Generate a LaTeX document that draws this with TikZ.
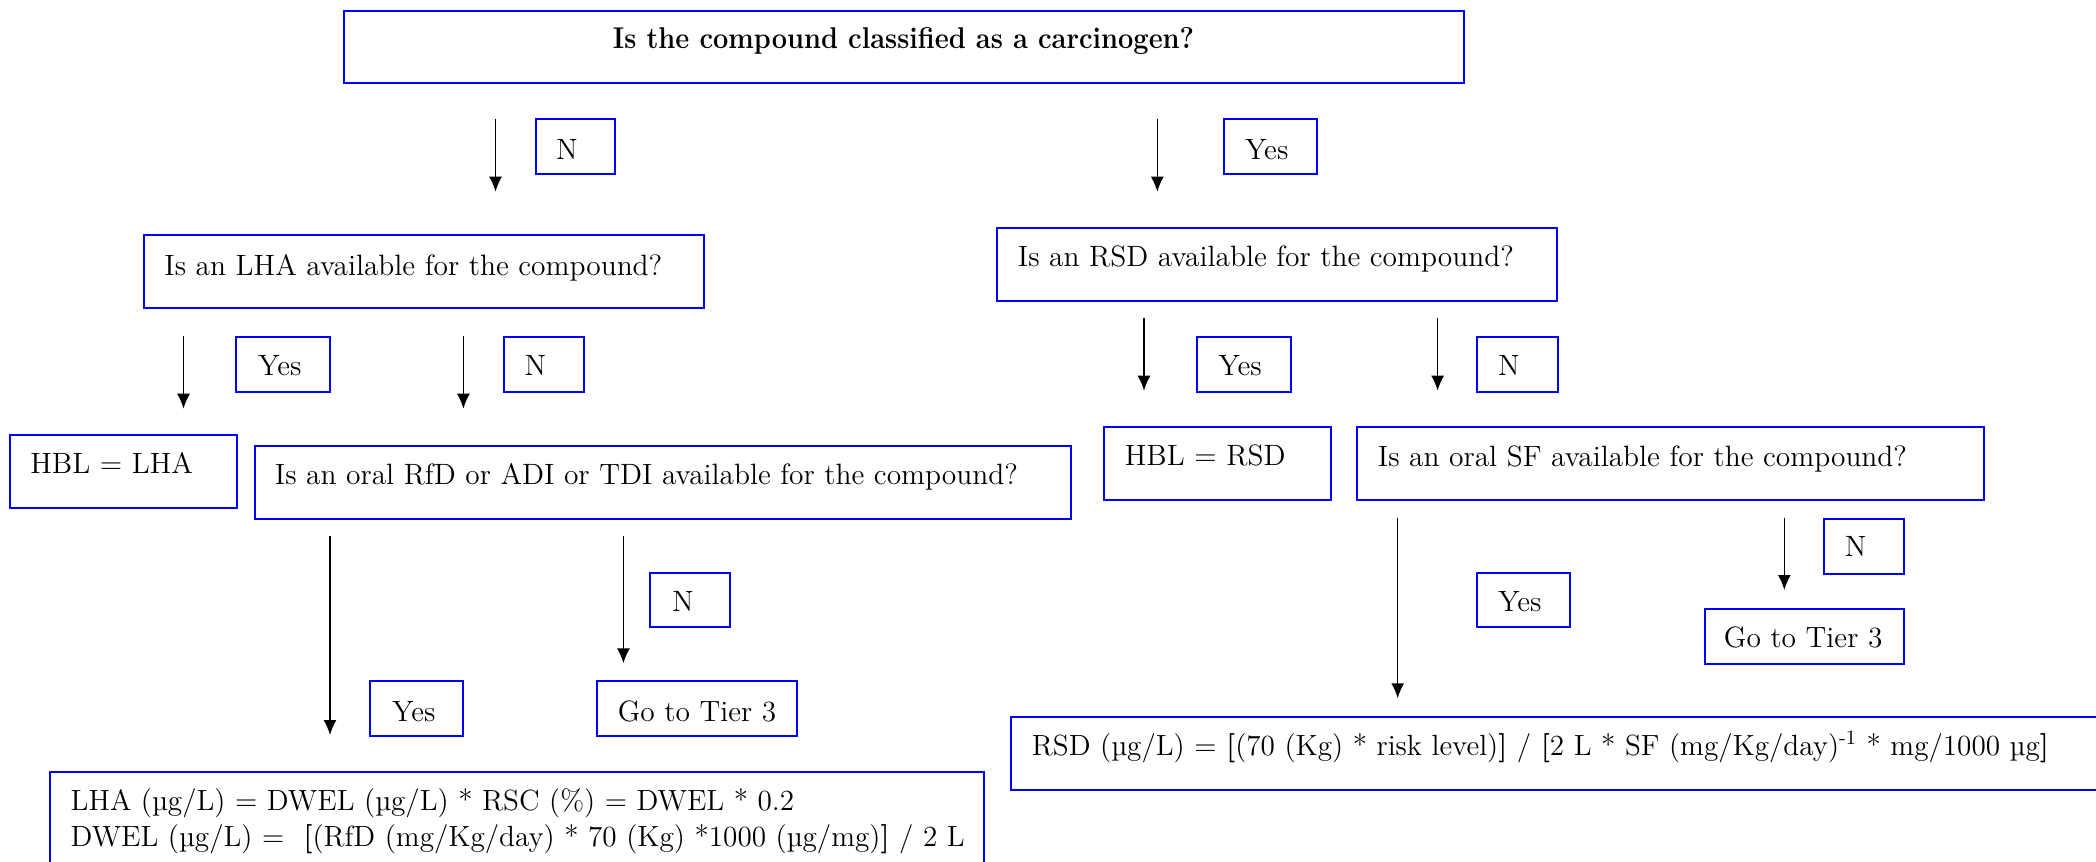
\documentclass[tikz,border=0pt]{standalone}
\usepackage{fontspec}
\usetikzlibrary{arrows.meta,fit}
\begin{document}
\begin{tikzpicture}[x=0.5pt,y=-0.5pt,
  box/.style={draw=blue, line width=1pt, inner sep=0pt, fill=none},
  txt/.style={font=\fontsize{14.7}{17.6}\selectfont, inner sep=0pt, anchor=base west},
  ftxt/.style={txt, font=\fontsize{14.6}{17.5}\selectfont},
  arr/.style={-{Latex[length=7.5pt,width=6.5pt]}, line width=0.75pt, black}]
\useasboundingbox (0,0) rectangle (2096,861);
\clip (0,0) rectangle (2096,861);
\fill[white] (0,0) rectangle (2096,861);

% boxes
\node[box, fit={(343.5,10.7)(1463.5,83.3)}] (q0) {};
\node[box, fit={(535.7,119.3)(615.4,174)}] (n1) {};
\node[box, fit={(1223.7,119.3)(1317.3,174)}] (y1) {};
\node[box, fit={(144,235.3)(703.7,308.3)}] (qlha) {};
\node[box, fit={(997,227.7)(1557,301)}] (qrsd) {};
\node[box, fit={(236.4,336.7)(330,391.7)}] (y2) {};
\node[box, fit={(503.5,336.7)(584,391.7)}] (n2) {};
\node[box, fit={(1197,336.7)(1290.8,391.7)}] (y3) {};
\node[box, fit={(1477.4,336.7)(1557.8,391.7)}] (n3) {};
\node[box, fit={(10,435)(237,508)}] (hbl1) {};
\node[box, fit={(255,446)(1071.3,519)}] (qrfd) {};
\node[box, fit={(1103.5,427.3)(1330.6,500)}] (hbl2) {};
\node[box, fit={(1357,427.3)(1984.2,500)}] (qsf) {};
\node[box, fit={(650,572.7)(730,627.3)}] (n4) {};
\node[box, fit={(370.3,681)(463.4,736)}] (y4) {};
\node[box, fit={(596.6,681)(796.8,736)}] (g1) {};
\node[box, fit={(1824,519.3)(1903.8,574)}] (n5) {};
\node[box, fit={(1477.4,572.7)(1570.4,627.3)}] (y5) {};
\node[box, fit={(1704.6,609)(1903.8,664)}] (g2) {};
\node[box, fit={(50.2,771.7)(983.6,900)}] (f1) {};
\node[box, fit={(1010.5,717.3)(2120,790)}] (f2) {};

% texts
\node[txt, anchor=base, font=\fontsize{15}{18}\selectfont\bfseries] (q0t) at (903.5,49) {\scalebox{0.906}[1]{Is the compound classified as a carcinogen?}};
\node[txt] (n1t) at (555.8,159.3) {N};
\node[txt] (y1t) at (1244.6,159.3) {Yes};
\node[txt] (qlhat) at (164,275) {Is an LHA available for the compound?};
\node[txt] (qrsdt) at (1017.5,266.7) {Is an RSD available for the compound?};
\node[txt] (y2t) at (257.8,375.7) {Yes};
\node[txt] (n2t) at (524.3,375.7) {N};
\node[txt] (y3t) at (1218,375.7) {Yes};
\node[txt] (n3t) at (1497.7,375.7) {N};
\node[txt] (hbl1t) at (30,473.3) {HBL = LHA};
\node[txt] (qrfdt) at (274.5,484) {Is an oral RfD or ADI or TDI available for the compound?};
\node[txt] (hbl2t) at (1124.4,465) {HBL = RSD};
\node[txt] (qsft) at (1377.5,466.7) {Is an oral SF available for the compound?};
\node[txt] (n4t) at (671.6,611.7) {N};
\node[txt] (y4t) at (391.7,721) {Yes};
\node[txt] (g1t) at (617.4,721) {Go to Tier 3};
\node[txt] (n5t) at (1844.4,556.7) {N};
\node[txt] (y5t) at (1497.7,611.7) {Yes};
\node[txt] (g2t) at (1723.5,647.3) {Go to Tier 3};
\node[ftxt] (f2t) at (1031.5,755) {RSD (µg/L) = \textbf{[}(70 (Kg) * risk level)\textbf{]} / \textbf{[}2 L * SF (mg/Kg/day)\textsuperscript{-1} * mg/1000 µg\textbf{]}};
\node[ftxt] (f1t) at (70.3,810) {LHA (µg/L) = DWEL (µg/L) * RSC (\%) = DWEL * 0.2};
\node[ftxt] (f1u) at (70.3,846.7) {DWEL (µg/L) = \ \textbf{[}(RfD (mg/Kg/day) * 70 (Kg) *1000 (µg/mg)\textbf{]} / 2 L};

% arrow coordinates
\coordinate (a1s) at (495.5,119);   \coordinate (a1e) at (495.5,191.7);
\coordinate (a2s) at (1157.3,119);  \coordinate (a2e) at (1157.3,191.7);
\coordinate (a3s) at (183.5,336);   \coordinate (a3e) at (183.5,408.7);
\coordinate (a4s) at (463.4,336);   \coordinate (a4e) at (463.4,408.7);
\coordinate (a5s) at (1144,318);    \coordinate (a5e) at (1144,390.7);
\coordinate (a6s) at (1437.6,318);  \coordinate (a6e) at (1437.6,390.7);
\coordinate (a7s) at (330,536);     \coordinate (a7e) at (330,735);
\coordinate (a8s) at (623.4,536);   \coordinate (a8e) at (623.4,663.3);
\coordinate (a9s) at (1397.7,517.7);\coordinate (a9e) at (1397.7,698.3);
\coordinate (a10s) at (1784.3,517.7);\coordinate (a10e) at (1784.3,590);
\foreach \i in {1,...,10} { \draw[arr] (a\i s) -- (a\i e); }
\end{tikzpicture}
\end{document}
